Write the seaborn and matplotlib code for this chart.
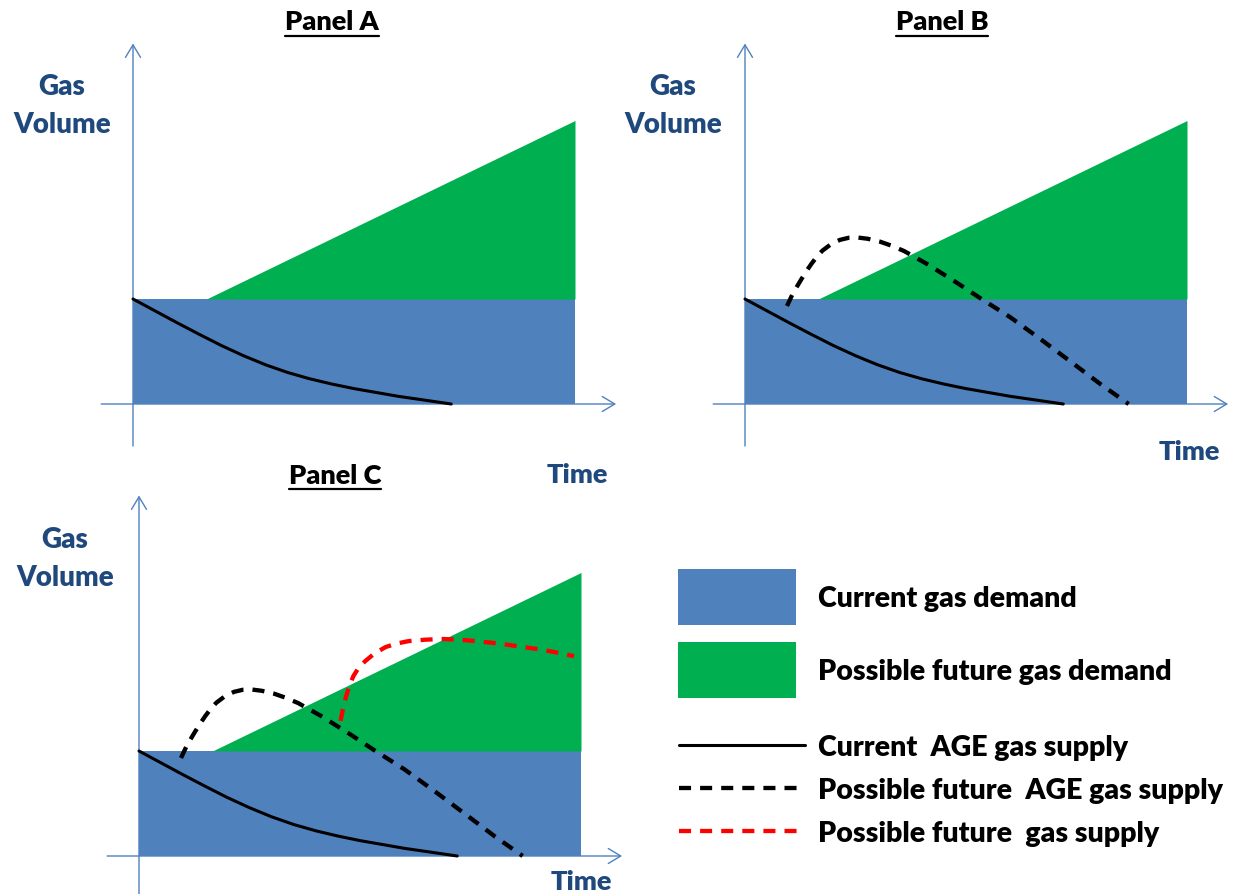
import numpy as np
import pandas as pd
import seaborn as sns
import matplotlib.pyplot as plt
from matplotlib.lines import Line2D
from matplotlib.patches import Patch

sns.set_theme(style="white")
plt.rcParams['font.family'] = ['Lato', 'DejaVu Sans']

# ---------------- data (time / volume in arbitrary units) ----------------
demand_t = [0.0, 10.0]
current_demand = [3.0, 3.0]
future_demand_t = [1.66, 10.0]
future_demand = [3.0, 8.1]

age_t = [0.0, 0.5, 1.0, 1.5, 2.0, 2.5, 3.0, 3.5, 4.0, 4.5, 5.0, 5.5, 6.0, 6.6, 7.2]
age_v = [3.0, 2.66, 2.32, 1.99, 1.67, 1.38, 1.12, 0.9, 0.72, 0.57, 0.44, 0.33, 0.22, 0.11, 0.0]

fut_age_t = [0.95, 1.08, 1.22, 1.36, 1.5, 1.62, 1.75, 1.95, 2.15, 2.35, 2.53, 2.78, 3.05, 3.3,
             3.6, 4.12, 4.75, 5.35, 6.0, 6.7, 7.4, 8.05, 8.68]
fut_age_v = [2.8, 3.15, 3.45, 3.74, 4.0, 4.2, 4.38, 4.57, 4.69, 4.75, 4.76, 4.72, 4.64, 4.53,
             4.37, 4.0, 3.5, 3.0, 2.48, 1.84, 1.18, 0.56, 0.0]

fut_t = [4.56, 4.61, 4.67, 4.75, 4.85, 4.97, 5.12, 5.33, 5.58, 5.83, 6.1, 6.47, 6.87, 7.25,
         7.62, 8.0, 8.37, 8.75, 9.14, 9.5, 9.84]
fut_v = [3.86, 4.18, 4.49, 4.83, 5.14, 5.38, 5.57, 5.79, 5.97, 6.07, 6.14, 6.18, 6.2, 6.18,
         6.14, 6.09, 6.03, 5.96, 5.89, 5.8, 5.71]

panel_titles = ["Panel A", "Panel B", "Panel C"]
ylabel = "Gas\nVolume"
xlabel = "Time"
legend_labels = ["Current gas demand", "Possible future gas demand",
                 "Current  AGE gas supply", "Possible future  AGE gas supply",
                 "Possible future  gas supply"]

# ---------------- styles ----------------
BLUE = "#4F81BD"
GREEN = "#00B050"
AXIS = "#4F81BD"
LABEL = "#1F497D"
RED = "#FF0000"
FS = 19.5
FS_LEG = 20.5
WEIGHT = "heavy"
DLW = 3.1
DASH = (0, (2.8, 2.1))

W, H = 1234, 895
fig = plt.figure(figsize=(W / 100, H / 100), dpi=100)

PX_T, PX_V = 44.2, 35.0
XLIM = (-1.0, 11.4)
YLIM = (-1.5, 10.6)


def frac(x, y):
    return x / W, 1 - y / H


def make_panel(ox, oy):
    left = ox + XLIM[0] * PX_T
    right = ox + XLIM[1] * PX_T
    top = oy - YLIM[1] * PX_V
    bottom = oy - YLIM[0] * PX_V
    ax = fig.add_axes([left / W, 1 - bottom / H, (right - left) / W, (bottom - top) / H])
    ax.set_xlim(XLIM)
    ax.set_ylim(YLIM)
    ax.set_axis_off()
    arrow = dict(arrowstyle="->,head_length=0.75,head_width=0.45", color=AXIS, lw=1.0,
                 shrinkA=0, shrinkB=0)
    ax.annotate("", xy=(10.93, 0), xytext=(-0.72, 0), arrowprops=arrow, zorder=1)
    ax.annotate("", xy=(0, 10.3), xytext=(0, -1.2), arrowprops=arrow, zorder=1)
    ax.fill_between(demand_t, 0, current_demand, color=BLUE, lw=0, zorder=2)
    ax.fill_between(future_demand_t, current_demand[0], future_demand, color=GREEN, lw=0, zorder=2)
    return ax


def draw_line(ax, t, v, color, lw, ls):
    df = pd.DataFrame({"Time": t, "Volume": v})
    sns.lineplot(data=df, x="Time", y="Volume", ax=ax, color=color, lw=lw,
                 linestyle=ls, estimator=None, sort=False, legend=False, zorder=3)
    ax.set_axis_off()
    ax.set_xlim(XLIM)
    ax.set_ylim(YLIM)


origins = [(133, 405), (745, 405), (139, 857)]
axes = [make_panel(*o) for o in origins]

for i, ax in enumerate(axes):
    draw_line(ax, age_t, age_v, "black", 2.2, "-")
    if i >= 1:
        draw_line(ax, fut_age_t, fut_age_v, "black", DLW, DASH)
    if i == 2:
        draw_line(ax, fut_t, fut_v, RED, DLW, DASH)

# titles
title_pos = [(332, 22), (942, 22), (335, 476)]
underline_y = [37, 37, 490]
titles = []
for (x, y), txt in zip(title_pos, panel_titles):
    titles.append(fig.text(*frac(x, y), txt, ha="center", va="center",
                           fontsize=FS, fontweight=WEIGHT, color="black"))

# axis labels
for (x, y) in [(62, 106), (673, 106), (65, 559)]:
    fig.text(*frac(x, y), ylabel, ha="center", va="center", fontsize=FS + 0.5,
             fontweight=WEIGHT, color=LABEL, linespacing=1.55)
for (x, y) in [(577, 475), (1189, 452), (581, 882)]:
    fig.text(*frac(x, y), xlabel, ha="center", va="center", fontsize=FS,
             fontweight=WEIGHT, color=LABEL)

# legends
fs_px = FS_LEG * 100 / 72
patch_handles = [Patch(facecolor=BLUE, edgecolor="none"), Patch(facecolor=GREEN, edgecolor="none")]
leg1 = fig.legend(patch_handles, legend_labels[:2], loc="center left",
                  bbox_to_anchor=frac(678, 634.5), frameon=False,
                  prop={"weight": WEIGHT, "size": FS_LEG},
                  handlelength=118 / fs_px, handleheight=2.6,
                  labelspacing=0.63, handletextpad=22 / fs_px, borderpad=0, borderaxespad=0)
line_handles = [Line2D([], [], color="black", lw=2.2),
                Line2D([], [], color="black", lw=DLW, linestyle=DASH),
                Line2D([], [], color=RED, lw=DLW, linestyle=DASH)]
leg2 = fig.legend(line_handles, legend_labels[2:], loc="center left",
                  bbox_to_anchor=frac(679, 791), frameon=False,
                  prop={"weight": WEIGHT, "size": FS_LEG},
                  handlelength=126 / fs_px, labelspacing=0.61,
                  handletextpad=13 / fs_px, borderpad=0, borderaxespad=0)
for leg in (leg1, leg2):
    for t in leg.get_texts():
        t.set_fontweight(WEIGHT)
        t.set_color("black")

# underline titles
fig.canvas.draw()
r = fig.canvas.get_renderer()
for t, uy in zip(titles, underline_y):
    bb = t.get_window_extent(r)
    fig.add_artist(Line2D([bb.x0 / W, bb.x1 / W], [1 - uy / H, 1 - uy / H],
                          transform=fig.transFigure, color="black", lw=1.6))

fig.savefig("out.png", dpi=100)
